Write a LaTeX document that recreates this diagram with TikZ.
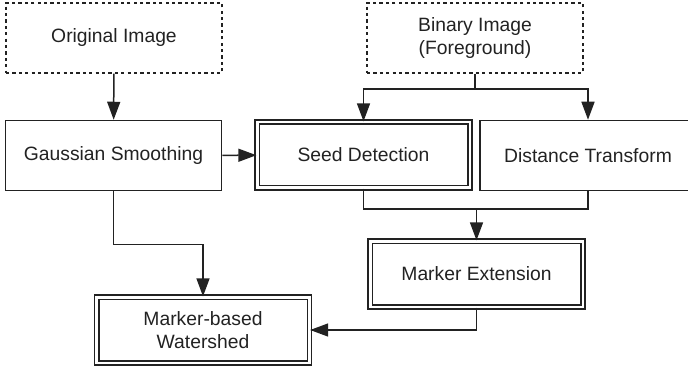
\documentclass[tikz,border=0pt]{standalone}
\usepackage{fontspec}
\setmainfont{Liberation Sans}
\usepackage{tikz}
\usetikzlibrary{arrows.meta}
\definecolor{inkgray}{RGB}{34,34,34}

\begin{document}
\begin{tikzpicture}[x=0.5pt, y=-0.5pt,
  font=\fontsize{9.65}{11.6}\selectfont, text=inkgray,
  stage/.style={draw=inkgray, line width=0.75pt, minimum width=108pt, minimum height=35pt, align=center, inner sep=0pt},
  inputbox/.style={stage, dash pattern=on 1.6pt off 1.6pt},
  keybox/.style={stage, double, double distance=1.4pt, minimum width=106.4pt, minimum height=32.9pt},
  flow/.style={draw=inkgray, line width=0.75pt, -{Triangle[length=9pt, width=6.5pt]}}]
  \useasboundingbox (0,0) rectangle (688,368);

  % Inputs
  \node[inputbox] (orig) at (114, 38) {Original Image};
  \node[inputbox] (binary) at (475, 38) {Binary Image\\(Foreground)};

  % Processing stages
  \node[stage] (gauss) at (113.5, 155.5) {Gaussian Smoothing};
  \node[keybox] (seed) at (363.5, 155) {Seed Detection};
  \node[stage] (dist) at (588, 155.5) {Distance Transform};
  \node[keybox] (mext) at (476.5, 274) {Marker Extension};
  \node[keybox] (water) at (203, 330) {Marker-based\\Watershed};

  % Helper points
  \coordinate (split) at (475, 89);
  \coordinate (merge) at (476.5, 209);

  % Connectors
  \draw[flow] (orig) -- (gauss);
  \draw[flow] (gauss) -- (seed);
  \draw[draw=inkgray, line width=0.75pt] (binary.south) -- (split);
  \draw[flow] (split) -| (seed.north);
  \draw[flow] (split) -| (dist.north);
  \draw[draw=inkgray, line width=0.75pt] (seed.south) |- (merge) -| (dist.south);
  \draw[flow] (merge) -- (mext.north);
  \draw[flow] (gauss.south) -- ++(0, 53) -| (water.north);
  \draw[flow] (mext.south) |- (water.east);
\end{tikzpicture}
\end{document}
